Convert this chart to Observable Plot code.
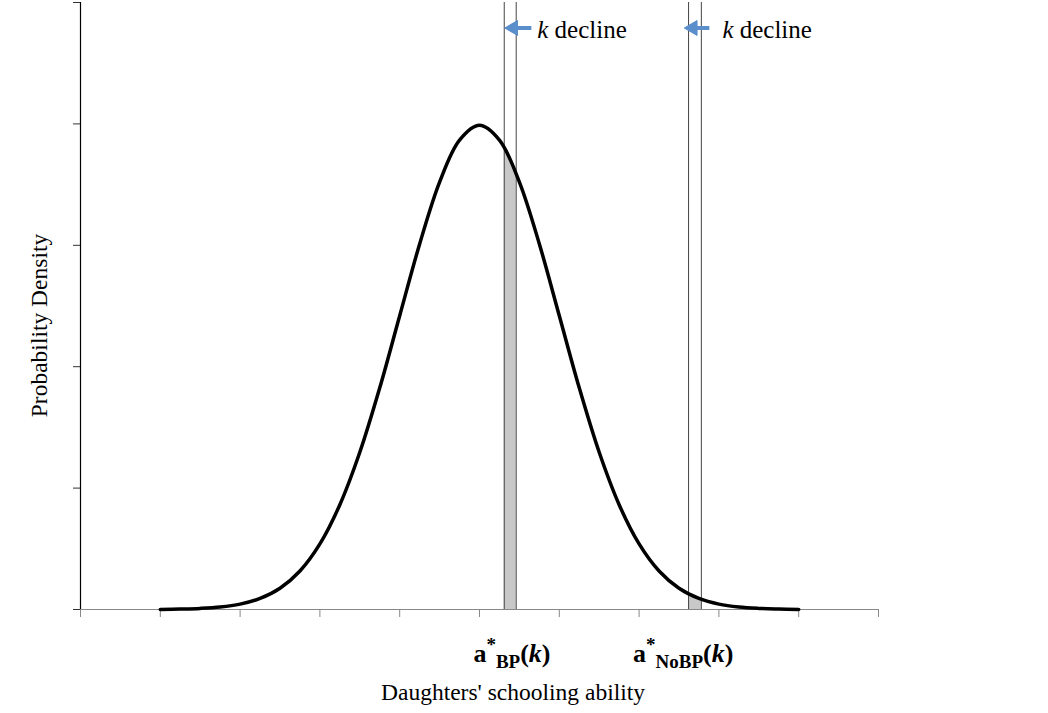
<!DOCTYPE html>
<html>
<head>
<meta charset="utf-8">
<script src="https://cdn.jsdelivr.net/npm/d3@7"></script>
<script src="https://cdn.jsdelivr.net/npm/@observablehq/plot@0.6"></script>
<style>
  html, body { margin: 0; padding: 0; background: #fff; }
  #chart svg { display: block; }
  #chart svg text.serif, #chart svg text.serif tspan { font-family: 'Liberation Serif', 'Times New Roman', serif; }
</style>
</head>
<body>
<div id="chart"></div>
<script>
// ---- data ----
const xTicks = [-5, -4, -3, -2, -1, 0, 1, 2, 3, 4, 5];
const yTicks = [0, 0.1, 0.2, 0.3, 0.4, 0.5];

const curveX = [-4, -3.75, -3.5, -3.25, -3, -2.75, -2.5, -2.25, -2, -1.75, -1.5, -1.25, -1, -0.75, -0.5, -0.25, 0,
                 0.25, 0.5, 0.75, 1, 1.25, 1.5, 1.75, 2, 2.25, 2.5, 2.75, 3, 3.25, 3.5, 3.75, 4];
const curveDensity = [0.0001, 0.0004, 0.0009, 0.0020, 0.0044, 0.0091, 0.0175, 0.0317, 0.0540, 0.0863, 0.1295, 0.1826, 0.2420, 0.3011, 0.3521, 0.3867, 0.3989,
                      0.3867, 0.3521, 0.3011, 0.2420, 0.1826, 0.1295, 0.0863, 0.0540, 0.0317, 0.0175, 0.0091, 0.0044, 0.0020, 0.0009, 0.0004, 0.0001];

// shaded bands (left edge, right edge, density at each edge)
const bandLeft = [0.31, 2.62];
const bandRight = [0.46, 2.78];
const bandTopLeft = [0.380, 0.0129];
const bandTopRight = [0.359, 0.0084];

// "k decline" arrows (shaft start, arrow tip)
const arrowFrom = [0.60, 2.83];
const arrowTo = [0.36, 2.61];
const arrowY = 0.479;
const declineX = [0.73, 3.05];
const declineY = 0.470;
const declineWord = "decline";

// threshold labels a*_sub(k)
const thresholdX = [-0.07, 1.93];
const thresholdSub = ["BP", "NoBP"];

const xTitle = "Daughters' schooling ability";
const yTitle = "Probability Density";

// ---- build tables ----
const curve = curveX.map((x, i) => ({x, y: curveDensity[i]}));
const bands = bandLeft.map((l, i) => [
  {band: i, x: l, y: bandTopLeft[i]},
  {band: i, x: bandRight[i], y: bandTopRight[i]}
]).flat();
const edges = bandLeft.concat(bandRight);
const arrows = arrowFrom.map((x1, i) => ({x1, x2: arrowTo[i], y: arrowY}));

const FONT = "'Liberation Serif', 'Times New Roman', serif";
const ARROW = "#5b8fcb";

const plot = Plot.plot({
  width: 1048,
  height: 713,
  marginLeft: 80,
  marginRight: 170,
  marginTop: 2,
  marginBottom: 104,
  style: {fontFamily: FONT, background: "white"},
  x: {domain: [-5, 5]},
  y: {domain: [0, 0.5]},
  marks: [
    Plot.areaY(bands, {x: "x", y: "y", z: "band", fill: "#c8c8c8"}),
    Plot.ruleX(edges, {y1: 0, y2: 0.5, stroke: "#444", strokeWidth: 1}),
    Plot.ruleY([0], {stroke: "#888", strokeWidth: 1.2}),
    Plot.axisX({ticks: xTicks, tickSize: 8, tickFormat: () => "", stroke: "#888", label: null}),
    Plot.axisY({ticks: yTicks, tickSize: 7, tickFormat: () => "", stroke: "#333", label: null}),
    Plot.ruleX([-5], {y1: 0, y2: 0.5, stroke: "#000", strokeWidth: 1.2}),
    Plot.line(curve, {x: "x", y: "y", stroke: "#000", strokeWidth: 3.5, curve: "catmull-rom"}),
    // arrow shaft
    Plot.link(arrows, {x1: "x1", x2: "x2", y1: "y", y2: "y", stroke: ARROW, strokeWidth: 4, dx: 4}),
    // arrow head (triangle rotated to point left)
    Plot.dot(arrows, {x: "x2", y: "y", symbol: "triangle", rotate: -90, r: 5.5, fill: ARROW, stroke: ARROW, strokeWidth: 1, dx: 5})
  ]
});

document.getElementById("chart").appendChild(plot);

// ---- rich text annotations ----
const svg = d3.select(plot);
const sx = plot.scale("x"), sy = plot.scale("y");
const x0 = sx.apply(-5), x1 = sx.apply(5), y0 = sy.apply(0);

declineX.forEach(v => {
  const t = svg.append("text").attr("class", "serif")
    .attr("x", sx.apply(v)).attr("y", sy.apply(declineY))
    .attr("text-anchor", "start")
    .attr("font-family", FONT).attr("font-size", 25).attr("fill", "#000");
  t.append("tspan").attr("font-style", "italic").text("k");
  t.append("tspan").text(" " + declineWord);
});

thresholdX.forEach((v, i) => {
  const t = svg.append("text").attr("class", "serif")
    .attr("x", sx.apply(v)).attr("y", y0 + 53)
    .attr("text-anchor", "start")
    .attr("font-family", FONT).attr("font-weight", "bold").attr("font-size", 26).attr("fill", "#000");
  t.append("tspan").text("a");
  t.append("tspan").attr("font-size", 19).attr("dy", -11).text("*");
  t.append("tspan").attr("font-size", 19).attr("dy", 17).text(thresholdSub[i]);
  t.append("tspan").attr("dy", -6).text("(");
  t.append("tspan").attr("font-style", "italic").text("k");
  t.append("tspan").text(")");
});

svg.append("text").attr("class", "serif")
  .attr("x", (x0 + x1) / 2 + 34).attr("y", y0 + 91)
  .attr("text-anchor", "middle")
  .attr("font-family", FONT).attr("font-size", 23.5).attr("fill", "#000")
  .text(xTitle);

svg.append("text").attr("class", "serif")
  .attr("transform", `translate(47, ${(sy.apply(0) + sy.apply(0.5)) / 2 + 20}) rotate(-90)`)
  .attr("text-anchor", "middle")
  .attr("font-family", FONT).attr("font-size", 23.5).attr("fill", "#000")
  .text(yTitle);
</script>
</body>
</html>
